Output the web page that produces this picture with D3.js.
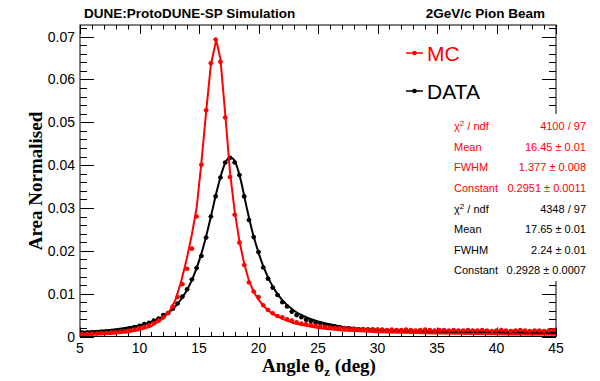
<!DOCTYPE html>
<html>
<head>
<meta charset="utf-8">
<script src="https://cdn.jsdelivr.net/npm/d3@7"></script>
<style>
  body { margin: 0; background: white; }
  svg { display: block; }
</style>
</head>
<body>
<svg id="chart" width="600" height="381"></svg>
<script>
// histogram: 100 bins from 5 to 45 deg
var binLow = 5, binHigh = 45, nBins = 100;

var mcValues = [
  0.0006, 0.0006, 0.0007, 0.0007, 0.0008, 0.0008, 0.0009, 0.0010, 0.0011, 0.0012,
  0.0014, 0.0016, 0.0019, 0.0022, 0.0026, 0.0031, 0.0037, 0.0045, 0.0055, 0.0070,
  0.0092, 0.0122, 0.0158, 0.0205, 0.0280, 0.0401, 0.0528, 0.0638, 0.0693, 0.0641,
  0.0511, 0.0372, 0.0284, 0.0219, 0.0167, 0.0126, 0.0105, 0.0092, 0.0073, 0.0062,
  0.0054, 0.0048, 0.0045, 0.0040, 0.0037, 0.0033, 0.0030, 0.0029, 0.0027, 0.0025,
  0.0023, 0.0022, 0.0021, 0.0020, 0.0020, 0.0019, 0.0018, 0.0018, 0.0017, 0.0017,
  0.0017, 0.0016, 0.0016, 0.0016, 0.0015, 0.0016, 0.0015, 0.0015, 0.0016, 0.0015,
  0.0014, 0.0015, 0.0016, 0.0015, 0.0014, 0.0015, 0.0015, 0.0014, 0.0015, 0.0014,
  0.0014, 0.0015, 0.0014, 0.0014, 0.0015, 0.0014, 0.0013, 0.0014, 0.0015, 0.0014,
  0.0013, 0.0014, 0.0015, 0.0014, 0.0013, 0.0014, 0.0014, 0.0013, 0.0014, 0.0015
];

var dataValues = [
  0.0009, 0.0009, 0.0010, 0.0010, 0.0011, 0.0011, 0.0012, 0.0013, 0.0014, 0.0016,
  0.0019, 0.0022, 0.0025, 0.0029, 0.0032, 0.0037, 0.0042, 0.0050, 0.0055, 0.0065,
  0.0077, 0.0093, 0.0110, 0.0133, 0.0160, 0.0188, 0.0231, 0.0280, 0.0327, 0.0371,
  0.0406, 0.0417, 0.0406, 0.0377, 0.0327, 0.0272, 0.0232, 0.0197, 0.0161, 0.0135,
  0.0114, 0.0097, 0.0080, 0.0070, 0.0058, 0.0050, 0.0045, 0.0039, 0.0036, 0.0032,
  0.0030, 0.0027, 0.0025, 0.0023, 0.0022, 0.0020, 0.0019, 0.0018, 0.0017, 0.0017,
  0.0016, 0.0016, 0.0015, 0.0015, 0.0014, 0.0014, 0.0014, 0.0013, 0.0014, 0.0013,
  0.0013, 0.0013, 0.0012, 0.0013, 0.0013, 0.0012, 0.0013, 0.0012, 0.0012, 0.0013,
  0.0012, 0.0012, 0.0013, 0.0012, 0.0012, 0.0012, 0.0011, 0.0012, 0.0012, 0.0011,
  0.0012, 0.0012, 0.0011, 0.0012, 0.0011, 0.0012, 0.0012, 0.0011, 0.0012, 0.0013
];

// fit curves
var mcFitX = [5, 6, 7, 8, 9, 10, 11, 12, 12.5, 13, 13.5, 14, 14.4, 14.8, 15.2, 15.6, 16.0, 16.45,
  16.8, 17.2, 17.6, 18.0, 18.4, 18.8, 19.2, 19.6, 20, 20.5, 21, 21.5, 22, 22.5, 23, 24, 25, 26, 27, 28.5, 30, 35, 40, 45];
var mcFitY = [0.0003, 0.0004, 0.0005, 0.0007, 0.0010, 0.0015, 0.0024, 0.0042, 0.0058, 0.0084, 0.0128, 0.0185, 0.0238, 0.0300, 0.0405, 0.0525, 0.0635, 0.0692,
  0.0648, 0.0520, 0.0385, 0.0292, 0.0222, 0.0170, 0.0130, 0.0104, 0.0086, 0.0069, 0.0057, 0.0048, 0.0041, 0.0036, 0.0031, 0.0025, 0.0020, 0.0017, 0.0014, 0.0012, 0.0010, 0.0007, 0.0005, 0.0004];

var dataFitX = [5, 6, 7, 8, 9, 10, 11, 12, 12.5, 13, 13.5, 14, 14.5, 15, 15.5, 16, 16.5, 17, 17.3, 17.65,
  18, 18.5, 19, 19.5, 20, 20.5, 21, 21.5, 22, 23, 24, 25, 27, 30, 35, 40, 45];
var dataFitY = [0.0010, 0.0012, 0.0014, 0.0017, 0.0021, 0.0026, 0.0034, 0.0047, 0.0057, 0.0070, 0.0087, 0.0109, 0.0138, 0.0176, 0.0223, 0.0280, 0.0340, 0.0390, 0.0410, 0.0418,
  0.0410, 0.0366, 0.0302, 0.0243, 0.0196, 0.0157, 0.0127, 0.0103, 0.0085, 0.0060, 0.0045, 0.0035, 0.0023, 0.0016, 0.0011, 0.0009, 0.0008];

var xTicks = [5, 10, 15, 20, 25, 30, 35, 40, 45];
var yTicks = [0, 0.01, 0.02, 0.03, 0.04, 0.05, 0.06, 0.07];

var mcStats = [["χ2 / ndf", "4100 / 97"], ["Mean", "16.45 ± 0.01"], ["FWHM", "1.377 ± 0.008"], ["Constant", "0.2951 ± 0.0011"]];
var dataStats = [["χ2 / ndf", "4348 / 97"], ["Mean", "17.65 ± 0.01"], ["FWHM", "2.24 ± 0.01"], ["Constant", "0.2928 ± 0.0007"]];

var svg = d3.select("#chart");
var padL = 80, padR = 556, padT = 25, padB = 336.5;
var sans = "'Liberation Sans', Arial, Helvetica, sans-serif";
var serif = "'Liberation Serif', 'Times New Roman', serif";

var x = d3.scaleLinear().domain([binLow, binHigh]).range([padL, padR]);
var y = d3.scaleLinear().domain([0, 0.0727]).range([padB, padT]);
var binW = (binHigh - binLow) / nBins;
var center = (i) => binLow + binW * (i + 0.5);

// ================ frame and ticks ================
var axes = svg.append("g").attr("stroke", "black").attr("stroke-width", 1);
axes.append("rect")
  .attr("x", padL).attr("y", padT)
  .attr("width", padR - padL).attr("height", padB - padT)
  .attr("fill", "none");

d3.range(5, 46, 1).forEach((t) => {
  var len = t % 5 == 0 ? 9 : 4.5;
  var px = Math.round(x(t)) + 0.5;
  axes.append("line").attr("x1", px).attr("x2", px).attr("y1", padB).attr("y2", padB - len);
  axes.append("line").attr("x1", px).attr("x2", px).attr("y1", padT).attr("y2", padT + len);
});
d3.range(0, 37, 1).forEach((i) => {
  var v = i * 0.002;
  if (y(v) < padT) return;
  var len = i % 5 == 0 ? 14 : 7;
  var py = Math.round(y(v)) + 0.5;
  axes.append("line").attr("x1", padL).attr("x2", padL + len).attr("y1", py).attr("y2", py);
  axes.append("line").attr("x1", padR).attr("x2", padR - len).attr("y1", py).attr("y2", py);
});

svg.append("g").selectAll("text").data(xTicks).enter().append("text")
  .attr("x", (d) => x(d)).attr("y", 353)
  .attr("text-anchor", "middle")
  .style("font-family", sans).style("font-size", "14px")
  .text((d) => d);

svg.append("g").selectAll("text").data(yTicks).enter().append("text")
  .attr("x", 75).attr("y", (d) => y(d) + 5)
  .attr("text-anchor", "end")
  .style("font-family", sans).style("font-size", "14px")
  .text((d) => d == 0 ? "0" : d.toFixed(2));

// ================ fit curves and points ================
function drawSeries(values, fitX, fitY, color, curve) {
  var line = d3.line().x((d) => x(d[0])).y((d) => y(d[1])).curve(curve);
  var g = svg.append("g");
  g.append("path")
    .attr("d", line(fitX.map((v, i) => [v, fitY[i]])))
    .attr("fill", "none").attr("stroke", color).attr("stroke-width", 2)
    .attr("stroke-linejoin", "round");
  g.selectAll("line").data(values).enter().append("line")
    .attr("x1", (d, i) => x(center(i) - binW / 2)).attr("x2", (d, i) => x(center(i) + binW / 2))
    .attr("y1", (d) => y(d)).attr("y2", (d) => y(d))
    .attr("stroke", color).attr("stroke-width", 1);
  g.selectAll("circle").data(values).enter().append("circle")
    .attr("cx", (d, i) => x(center(i))).attr("cy", (d) => y(d))
    .attr("r", 2.3).attr("fill", color);
}
drawSeries(dataValues, dataFitX, dataFitY, "black", d3.curveMonotoneX);
drawSeries(mcValues, mcFitX, mcFitY, "#ff0000", d3.curveLinear);

// ================ legend ================
[["MC", "#ff0000", 53], ["DATA", "black", 91]].forEach((d) => {
  svg.append("line").attr("x1", 406).attr("x2", 423).attr("y1", d[2]).attr("y2", d[2])
    .attr("stroke", d[1]).attr("stroke-width", 1.5);
  svg.append("circle").attr("cx", 414.5).attr("cy", d[2]).attr("r", 2.3).attr("fill", d[1]);
  svg.append("text").attr("x", 427).attr("y", d[2] + 7.5)
    .style("font-family", sans).style("font-size", "21px").attr("fill", d[1])
    .text(d[0]);
});

// ================ stat box ================
svg.append("rect").attr("x", 447).attr("y", 114).attr("width", 153).attr("height", 167).attr("fill", "white");
function statLines(rows, color, y0) {
  rows.forEach((r, i) => {
    var yy = y0 + i * 20.6;
    var lab = svg.append("text").attr("x", 454).attr("y", yy)
      .style("font-family", sans).style("font-size", "11px").attr("fill", color);
    if (r[0].startsWith("χ2")) {
      lab.append("tspan").text("χ");
      lab.append("tspan").attr("dy", -4).style("font-size", "8px").text("2");
      lab.append("tspan").attr("dy", 4).text(" / ndf");
    } else lab.text(r[0]);
    svg.append("text").attr("x", 586).attr("y", yy).attr("text-anchor", "end")
      .style("font-family", sans).style("font-size", "11px").attr("fill", color)
      .text(r[1]);
  });
}
statLines(mcStats, "#ff0000", 130);
statLines(dataStats, "black", 212.5);

// ================ titles ================
svg.append("text").attr("x", 84).attr("y", 18)
  .style("font-family", sans).style("font-weight", "bold").style("font-size", "13.5px")
  .text("DUNE:ProtoDUNE-SP Simulation");
svg.append("text").attr("x", 545).attr("y", 18).attr("text-anchor", "end")
  .style("font-family", sans).style("font-weight", "bold").style("font-size", "13.5px")
  .text("2GeV/c Pion Beam");

var xt = svg.append("text").attr("x", 319).attr("y", 372).attr("text-anchor", "middle")
  .style("font-family", serif).style("font-weight", "bold").style("font-size", "19px");
xt.append("tspan").text("Angle  θ");
xt.append("tspan").attr("dy", 4).style("font-size", "13px").text("z");
xt.append("tspan").attr("dy", -4).text(" (deg)");

svg.append("text").attr("transform", "translate(42,181) rotate(-90)").attr("text-anchor", "middle")
  .style("font-family", serif).style("font-weight", "bold").style("font-size", "19px")
  .text("Area Normalised");
</script>
</body>
</html>
